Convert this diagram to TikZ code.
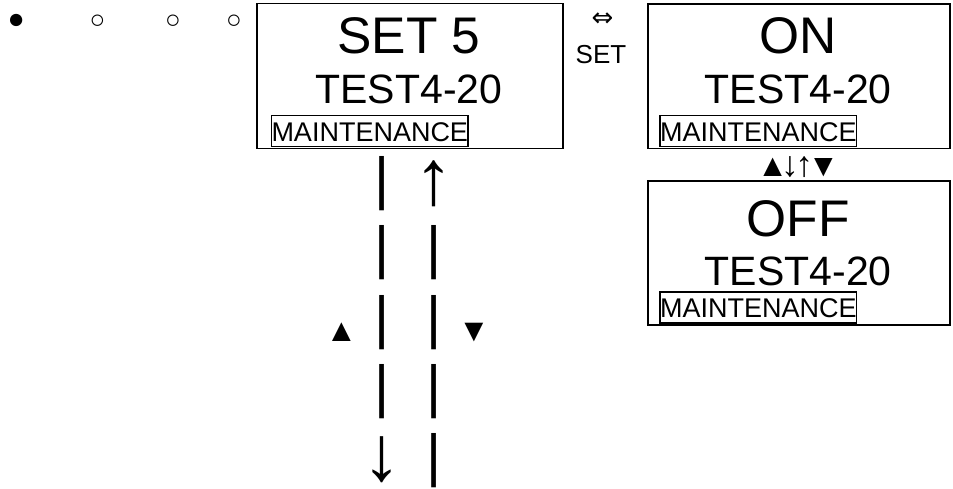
\documentclass[tikz,border=0pt]{standalone}
\usepackage{fontspec}
\setmainfont{Liberation Sans}
\newfontfamily\dejavu{DejaVu Sans}
\newcommand\fsz[1]{\fontsize{#1}{#1}\selectfont}
\begin{document}
\begin{tikzpicture}[x=1pt,y=-1pt,
  panel/.style={draw, line width=1.8pt, anchor=north west, inner sep=0pt},
  tag/.style={draw, line width=1.6pt, inner sep=0pt, anchor=base west, font=\fsz{27}, text height=25.5pt, text depth=5.5pt},
  big/.style={anchor=base, font=\fsz{51.5}, inner sep=0pt},
  mid/.style={anchor=base, font=\fsz{41}, inner sep=0pt},
  glyph/.style={inner sep=0pt, anchor=center},
  bar/.style={glyph, font=\fsz{58}},
  bigarrow/.style={glyph, font=\fsz{78}},
  tri/.style={glyph, font=\fsz{32}},
  dot/.style={inner sep=0pt, anchor=base}]
\useasboundingbox (0,0) rectangle (953,489);
% dots
\node[dot, font=\fsz{28.5}] (d1) at (16.3,28.3) {●};
\node[dot, font=\fsz{26}] (d2) at (97.5,28.1) {○};
\node[dot, font=\fsz{26}] (d3) at (173,28.1) {○};
\node[dot, font=\fsz{26}] (d4) at (234,28.1) {○};
% SET panel
\node[panel, minimum width=306pt, minimum height=145pt] (setp) at (256,2.7) {};
\node[big] (setv) at (409,53.3) {SET 5};
\node[mid] (sett) at (409,103.3) {TEST4-20};
\node[tag] (setm) at (270.7,141.2) {MAINTENANCE};
% SET key
\node[glyph, font=\dejavu\fsz{26}] (key) at (602.5,20) {⇔};
\node[anchor=base, inner sep=0pt, font=\fsz{26}] (keyl) at (601,63.3) {SET};
% ON panel
\node[panel, minimum width=302pt, minimum height=144.4pt] (onp) at (647.3,3.3) {};
\node[big] (onv) at (798.3,53.3) {ON};
\node[mid] (ont) at (798.3,103.3) {TEST4-20};
\node[tag] (onm) at (659.3,141.2) {MAINTENANCE};
% up/down between ON and OFF
\node[inner sep=0pt, anchor=base west] (ud) at (757,177)
  {{\fsz{31.5}▲}\kern-7.3pt{\fsz{35.5}↓}\kern-3.6pt{\fsz{35.5}↑}\kern-5pt{\fsz{31.5}▼}};
% OFF panel
\node[panel, minimum width=302pt, minimum height=144pt] (offp) at (647.3,180) {};
\node[big] (offv) at (798.3,236.7) {OFF};
\node[mid] (offt) at (798.3,285) {TEST4-20};
\node[tag] (offm) at (659.3,317.2) {MAINTENANCE};
% vertical glyph columns
\node[bar] (l1) at (381.7,184) {|};
\node[bar] (l2) at (381.7,252.5) {|};
\node[bar] (l3) at (381.7,323) {|};
\node[bar] (l4) at (381.7,391.5) {|};
\node[bigarrow] (l5) at (381.7,460) {↓};
\node[bigarrow] (r1) at (434,183.5) {↑};
\node[bar] (r2) at (434,252.5) {|};
\node[bar] (r3) at (434,323) {|};
\node[bar] (r4) at (434,391.5) {|};
\node[bar] (r5) at (434,460.5) {|};
\node[tri] (up) at (341.5,332.5) {▲};
\node[tri] (dn) at (474,332.5) {▼};
\end{tikzpicture}
\end{document}
